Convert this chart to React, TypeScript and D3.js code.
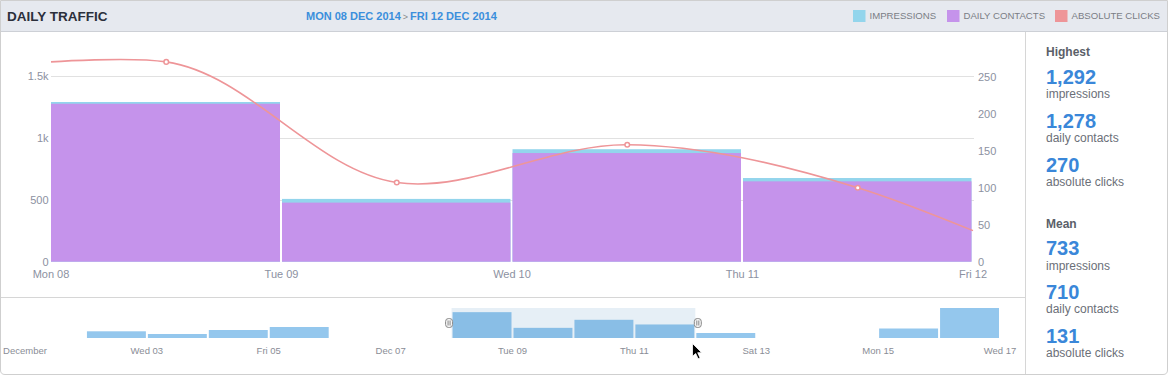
import React from 'react';
import * as d3 from 'd3';

// ---- data ----
const mainDays = [8, 9, 10, 11];
const impressions = [1292, 508, 910, 677];
const contacts = [1278, 478, 879, 650];
const clickTimes = [8, 8.5, 9.5, 10.5, 11.5, 12];
const clicks = [270, 270, 107, 158, 100, 42];
const clickMarker = [false, true, true, true, true, false];
const xTickDays = [8, 9, 10, 11, 12];
const xTickLabels = ['Mon 08', 'Tue 09', 'Wed 10', 'Thu 11', 'Fri 12'];
const leftTicks = [0, 500, 1000, 1500];
const leftTickLabels = ['0', '500', '1k', '1.5k'];
const rightTicks = [0, 50, 100, 150, 200, 250];

const navDays = [2, 3, 4, 5, 8, 9, 10, 11, 12, 15, 16];
const navValues = [335, 200, 400, 550, 1292, 508, 910, 677, 250, 475, 1500];
const navTickDays = [1, 3, 5, 7, 9, 11, 13, 15, 17];
const navTickLabels = ['December', 'Wed 03', 'Fri 05', 'Dec 07', 'Tue 09', 'Thu 11', 'Sat 13', 'Mon 15', 'Wed 17'];
const selection = [8, 12];

const legendItems = ['IMPRESSIONS', 'DAILY CONTACTS', 'ABSOLUTE CLICKS'];
const statLabels = ['impressions', 'daily contacts', 'absolute clicks'];
const highestValues = ['1,292', '1,278', '270'];
const meanValues = ['733', '710', '131'];

const C_IMP = '#93d5ec';
const C_CON = '#c593eb';
const C_CLK = '#ee9598';
const FONT = '"Liberation Sans", Arial, Helvetica, sans-serif';
const AXIS = '#8c91a1';

export default function App() {
  const W = 1168, H = 375;
  const x = d3.scaleLinear().domain([8, 12]).range([51, 973]);
  const yL = d3.scaleLinear().domain([0, 1500]).range([261.7, 76.3]);
  const yR = d3.scaleLinear().domain([0, 250]).range([261.7, 76.7]);
  const step = x(9) - x(8);

  const line = d3.line<number>()
    .x((_, i) => x(clickTimes[i]))
    .y((d) => yR(d))
    .curve(d3.curveCatmullRom.alpha(1));

  const nx = d3.scaleLinear().domain([1, 17]).range([25, 1000]);
  const ny = d3.scaleLinear().domain([0, d3.max(navValues) as number]).range([338, 308]);
  const nstep = nx(2) - nx(1);

  const legendX = [853, 947, 1055];
  const legendColors = [C_IMP, C_CON, C_CLK];

  const selX0 = nx(selection[0]);
  const selX1 = nx(selection[1]);

  const handle = (hx: number) => (
    <g>
      <rect x={hx - 3.5} y={318.5} width={7} height={9} rx={3} fill="#f4f4f4" stroke="#888" strokeWidth={1} />
      <line x1={hx - 1} x2={hx - 1} y1={320.5} y2={325.5} stroke="#888" strokeWidth={1} />
      <line x1={hx + 1} x2={hx + 1} y1={320.5} y2={325.5} stroke="#888" strokeWidth={1} />
    </g>
  );

  return (
    <svg width={W} height={H} style={{ position: 'absolute', left: 0, top: 0, fontFamily: FONT }}>
      {/* frame */}
      <path d={`M0.5,0.5 H${W - 0.5} V${H - 5} Q${W - 0.5},${H - 0.5} ${W - 5},${H - 0.5} H5 Q0.5,${H - 0.5} 0.5,${H - 5} Z`} fill="#fff" stroke="#cfcfcf" />
      <rect x={1} y={1} width={W - 2} height={30.5} fill="#e6e9ef" />
      <line x1={1} x2={W - 1} y1={31.5} y2={31.5} stroke="#cdd0d6" />

      {/* header */}
      <text x={7} y={20.7} fontSize={13.5} fontWeight="bold" fill="#2b2f3b">DAILY TRAFFIC</text>
      <text x={306} y={20} fontSize={11} fontWeight="bold" fill="#3b8fdc">
        MON 08 DEC 2014
        <tspan fontSize={9} fontWeight="normal" fill="#8a8a8a" dx={2}>&gt;</tspan>
        <tspan dx={2}>FRI 12 DEC 2014</tspan>
      </text>
      {legendItems.map((t, i) => (
        <g key={t}>
          <rect x={legendX[i]} y={10} width={12.5} height={12} fill={legendColors[i]} />
          <text x={legendX[i] + 16.5} y={19} fontSize={9.6} fill="#7a7d85">{t}</text>
        </g>
      ))}

      {/* side panel border */}
      <line x1={1025.5} x2={1025.5} y1={32} y2={H - 1} stroke="#d6d6d6" />
      {/* navigator top border */}
      <line x1={1} x2={1025} y1={297.5} y2={297.5} stroke="#d6d6d6" />

      {/* grid */}
      {leftTicks.filter((t) => t > 0).map((t) => (
        <line key={t} x1={51} x2={974} y1={Math.round(yL(t)) + 0.5} y2={Math.round(yL(t)) + 0.5} stroke="#e1e1e1" />
      ))}

      {/* bars */}
      {mainDays.map((d, i) => (
        <g key={d}>
          <rect x={x(d) + (i === 0 ? 0 : 0.5)} width={step - (i === 0 ? 1.5 : 2)} y={yL(impressions[i])} height={yL(0) - yL(impressions[i])} fill={C_IMP} />
          <rect x={x(d) + (i === 0 ? 0 : 0.5)} width={step - (i === 0 ? 1.5 : 2)} y={yL(contacts[i])} height={yL(0) - yL(contacts[i])} fill={C_CON} />
        </g>
      ))}

      {/* clicks line */}
      <path d={line(clicks) || ''} fill="none" stroke={C_CLK} strokeWidth={1.6} />
      {clicks.map((v, i) => clickMarker[i] ? (
        <circle key={i} cx={x(clickTimes[i])} cy={yR(v)} r={2.3} fill="#fff" stroke={C_CLK} strokeWidth={1.5} />
      ) : null)}

      {/* axes labels */}
      {leftTicks.map((t, i) => (
        <text key={t} x={48.5} y={yL(t) + 3.8} fontSize={11} fill={AXIS} textAnchor="end">{leftTickLabels[i]}</text>
      ))}
      {rightTicks.map((t) => (
        <text key={t} x={978} y={yR(t) + 3.8} fontSize={11} fill={AXIS}>{t}</text>
      ))}
      {xTickDays.map((d, i) => (
        <text key={d} x={x(d)} y={278.3} fontSize={11} fill={AXIS} textAnchor="middle">{xTickLabels[i]}</text>
      ))}

      {/* navigator */}
      <rect x={selX0} y={308} width={selX1 - selX0} height={30} fill="#e6eff6" />
      {navDays.map((d, i) => {
        const inSel = d >= selection[0] && d < selection[1];
        return (
          <rect key={d} x={nx(d) + 1} width={nstep - 2} y={ny(navValues[i])} height={ny(0) - ny(navValues[i])}
            fill={inSel ? '#89bee6' : '#94c7ed'} />
        );
      })}
      {handle(selX0 - 2.5)}
      {handle(selX1 + 2.5)}
      {navTickDays.map((d, i) => (
        <text key={d} x={nx(d)} y={354} fontSize={9.5} fill="#8a8d96" textAnchor="middle">{navTickLabels[i]}</text>
      ))}

      {/* mouse cursor */}
      <path transform="translate(692.5,343.5) scale(0.8)"
        d="M0,0 L0,16 L4,12.5 L7,19 L9.5,18 L6.5,11.5 L11.5,11.5 Z"
        fill="#000" stroke="#fff" strokeWidth={1} />

      {/* stats panel */}
      <text x={1046} y={55.7} fontSize={12} fontWeight="bold" fill="#5b5f69">Highest</text>
      {highestValues.map((v, i) => (
        <g key={'h' + i}>
          <text x={1046} y={84 + i * 43.8} fontSize={20} fontWeight="bold" fill="#3a87d9">{v}</text>
          <text x={1046} y={98.3 + i * 43.8} fontSize={12} fill="#6b6f78">{statLabels[i]}</text>
        </g>
      ))}
      <text x={1046} y={227.5} fontSize={12} fontWeight="bold" fill="#5b5f69">Mean</text>
      {meanValues.map((v, i) => (
        <g key={'m' + i}>
          <text x={1046} y={255.2 + i * 43.8} fontSize={20} fontWeight="bold" fill="#3a87d9">{v}</text>
          <text x={1046} y={269.5 + i * 43.8} fontSize={12} fill="#6b6f78">{statLabels[i]}</text>
        </g>
      ))}
    </svg>
  );
}
